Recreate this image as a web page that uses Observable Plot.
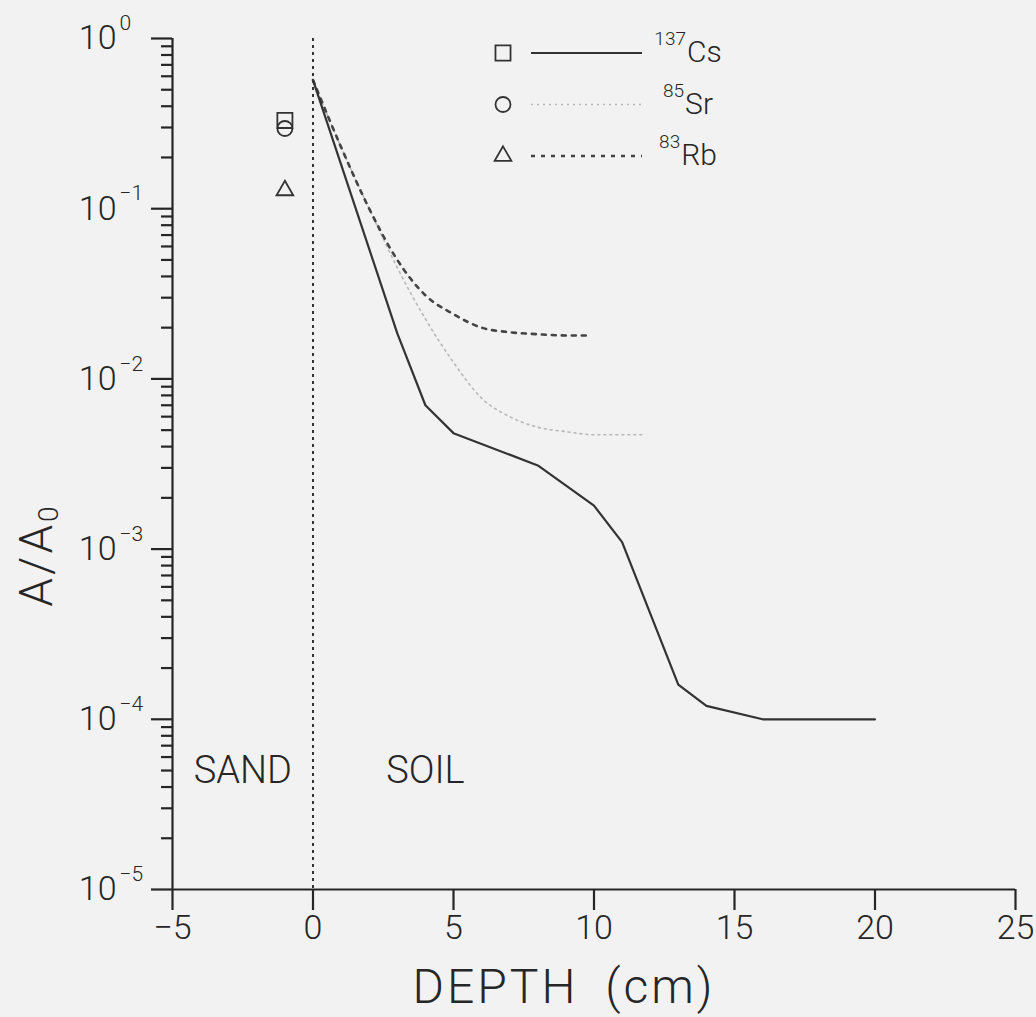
<!DOCTYPE html>
<html><head><meta charset="utf-8">
<script src="https://cdn.jsdelivr.net/npm/d3@7"></script>
<script src="https://cdn.jsdelivr.net/npm/@observablehq/plot@0.6"></script>
<style>
html,body{margin:0;padding:0;background:#f2f2f2;}
#chart svg text{font-weight:300;}
</style></head><body><div id="chart"></div>
<script>
// ---- data ----
const depthCs = [0, 3, 4, 5, 8, 10, 11, 13, 14, 16, 20];
const valueCs = [0.57, 0.0185, 0.0070, 0.0048, 0.0031, 0.0018, 0.0011, 0.00016, 0.00012, 0.0001, 0.0001];
const depthSr = [0, 1, 2, 3, 4, 5, 6, 7, 8, 9, 10, 11.7];
const valueSr = [0.57, 0.23, 0.1, 0.045, 0.0225, 0.0125, 0.0077, 0.006, 0.0052, 0.0049, 0.0047, 0.0047];
const depthRb = [0, 1, 2, 3, 4, 5, 6, 7, 8, 9, 9.8];
const valueRb = [0.57, 0.23, 0.1, 0.05, 0.031, 0.024, 0.0200, 0.0188, 0.0183, 0.018, 0.018];
const sandDepth = [-1, -1, -1];
const sandValue = [0.33, 0.296, 0.128];
const sandSymbol = ["square", "circle", "triangle"];
const seriesNames = ["Cs", "Sr", "Rb"];
const seriesMass = ["137", "85", "83"];
const xTicks = [-5, 0, 5, 10, 15, 20, 25];
const yMajor = [1e-5, 1e-4, 1e-3, 1e-2, 1e-1, 1];
const yExp = ["\u22125", "\u22124", "\u22123", "\u22122", "\u22121", "0"];
const yMinor = [];
for (let e = -5; e < 0; e++) for (let k = 2; k <= 9; k++) yMinor.push(k * Math.pow(10, e));
const boundary = [0];
const zoneLabels = ["SAND", "SOIL"];
const zoneDepth = [-2.5, 4];
const zoneValue = [5e-5, 5e-5];

// ---- styles ----
const ink = "#262626";
const styles = [
  {stroke: "#333", strokeWidth: 2.2, dash: null},
  {stroke: "#b8b8b8", strokeWidth: 1.6, dash: "2,4"},
  {stroke: "#444", strokeWidth: 2.6, dash: "4,6"}
];
const symR = {square: 8.5, circle: 7.5, triangle: 6.2};

const cs = depthCs.map((x, i) => ({x, y: valueCs[i]}));
const sr = depthSr.map((x, i) => ({x, y: valueSr[i]}));
const rb = depthRb.map((x, i) => ({x, y: valueRb[i]}));
const sand = sandDepth.map((x, i) => ({x, y: sandValue[i], s: sandSymbol[i]}));
const zones = zoneLabels.map((t, i) => ({t, x: zoneDepth[i], y: zoneValue[i]}));

const font = "Roboto, 'Open Sans', 'DejaVu Sans', sans-serif";

const plot = Plot.plot({
  width: 1036, height: 1017,
  marginLeft: 172, marginRight: 21, marginTop: 38, marginBottom: 128,
  style: {background: "#f2f2f2", fontFamily: font, color: ink, overflow: "visible"},
  x: {domain: [-5, 25]},
  y: {type: "log", domain: [1e-5, 1]},
  r: {type: "identity"},
  marks: [
    Plot.axisY(yMinor, {tickSize: 11, stroke: ink, strokeWidth: 2.2, fill: "none", label: null, tickFormat: () => ""}),
    Plot.axisY(yMajor, {tickSize: 21, stroke: ink, strokeWidth: 2.2, fill: "none", label: null, tickFormat: () => ""}),
    Plot.text(yMajor, {y: d => d, text: () => "10", frameAnchor: "left", textAnchor: "end", dx: -56, fontSize: 34, fill: ink}),
    Plot.text(yMajor, {y: d => d, text: (d, i) => yExp[i], frameAnchor: "left", textAnchor: "start", dx: -53, dy: -15, fontSize: 21, fill: ink}),
    Plot.axisX(xTicks, {tickSize: 21, tickPadding: 4, stroke: ink, strokeWidth: 2.2, fontSize: 34, label: null, fill: ink}),
    Plot.ruleX([-5], {stroke: ink, strokeWidth: 2.2}),
    Plot.ruleY([1e-5], {stroke: ink, strokeWidth: 2.2}),
    Plot.ruleX(boundary, {stroke: "#333", strokeWidth: 2, strokeDasharray: "3,4"}),
    Plot.line(sr, {x: "x", y: "y", stroke: styles[1].stroke, strokeWidth: styles[1].strokeWidth, strokeDasharray: styles[1].dash, curve: "monotone-x"}),
    Plot.line(rb, {x: "x", y: "y", stroke: styles[2].stroke, strokeWidth: styles[2].strokeWidth, strokeDasharray: styles[2].dash, curve: "monotone-x"}),
    Plot.line(cs, {x: "x", y: "y", stroke: styles[0].stroke, strokeWidth: styles[0].strokeWidth}),
    Plot.dot(sand, {x: "x", y: "y", symbol: "s", r: d => symR[d.s], stroke: "#333", strokeWidth: 1.8, fill: "none"}),
    Plot.text(zones, {x: "x", y: "y", text: "t", fontSize: 38, fill: ink})
  ]
});
document.getElementById("chart").appendChild(plot);

// ---- overlay: legend and axis titles with super/subscripts ----
const svg = d3.select(plot);
const sym = {square: d3.symbolSquare, circle: d3.symbolCircle, triangle: d3.symbolTriangle};
const lg = svg.append("g").attr("font-family", font);
seriesNames.forEach((name, i) => {
  const y = 53 + i * 51.5;
  const s = sandSymbol[i];
  lg.append("path")
    .attr("d", d3.symbol(sym[s], Math.PI * symR[s] * symR[s])())
    .attr("transform", `translate(503,${y})`)
    .attr("fill", "none").attr("stroke", "#333").attr("stroke-width", 1.8);
  lg.append("line").attr("x1", 531).attr("x2", 642).attr("y1", y).attr("y2", y)
    .attr("stroke", styles[i].stroke).attr("stroke-width", styles[i].strokeWidth)
    .attr("stroke-dasharray", styles[i].dash);
  const t = lg.append("text").attr("x", 688).attr("y", y + 9).attr("fill", ink);
  t.append("tspan").attr("font-size", 19).attr("dy", -17).text(seriesMass[i]);
  t.append("tspan").attr("font-size", 30).attr("dy", 17).attr("dx", 1).text(name);
});
// y title
const yt = svg.append("text").attr("font-family", font).attr("fill", ink)
  .attr("transform", "translate(52,555) rotate(-90)").attr("text-anchor", "middle")
  .attr("font-size", 46).attr("letter-spacing", 3);
yt.append("tspan").text("A/A");
yt.append("tspan").attr("font-size", 28).attr("dy", 6).text("0");
// x title
svg.append("text").attr("font-family", font).attr("fill", ink)
  .attr("x", 564).attr("y", 1003).attr("text-anchor", "middle")
  .attr("font-size", 48).attr("letter-spacing", 3).attr("word-spacing", 12)
  .text("DEPTH (cm)");
</script></body></html>
